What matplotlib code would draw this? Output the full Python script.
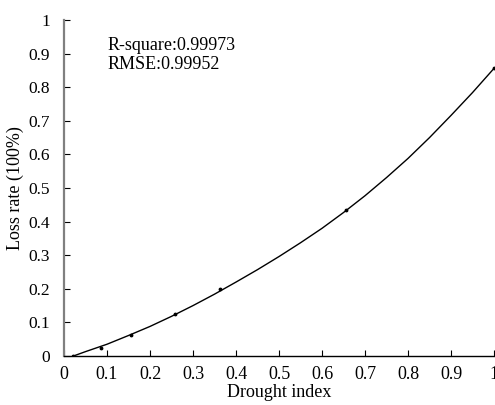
import matplotlib
matplotlib.use("Agg")
import matplotlib.pyplot as plt

plt.rcParams["font.family"] = ["Liberation Serif", "DejaVu Serif"]

# observed points
drought_idx = [0.022, 0.086, 0.155, 0.257, 0.363, 0.655, 1.0]
loss_rate = [0.0, 0.023, 0.063, 0.124, 0.198, 0.435, 0.858]

# fitted curve
fit_x = [0.022, 0.05, 0.1, 0.15, 0.2, 0.25, 0.3, 0.35, 0.4, 0.45, 0.5,
         0.55, 0.6, 0.65, 0.7, 0.75, 0.8, 0.85, 0.9, 0.95, 1.0]
fit_y = [0.0, 0.013, 0.035, 0.061, 0.088, 0.118, 0.150, 0.184, 0.220, 0.257, 0.296,
         0.337, 0.380, 0.427, 0.477, 0.531, 0.588, 0.650, 0.716, 0.784, 0.856]

ticks = [0, 0.1, 0.2, 0.3, 0.4, 0.5, 0.6, 0.7, 0.8, 0.9, 1]
tick_labels = ["0", "0.1", "0.2", "0.3", "0.4", "0.5", "0.6", "0.7", "0.8", "0.9", "1"]

fig = plt.figure(figsize=(4.95, 4.05), dpi=100)
ax = fig.add_axes([0.1293, 0.121, 0.8687, 0.8296])

ax.plot(fit_x, fit_y, "k-", lw=1.0)
ax.plot(drought_idx, loss_rate, "k.", ms=3.5)

ax.set_xlim(0, 1)
ax.set_ylim(0, 1)
ax.set_xticks(ticks)
ax.set_xticklabels(tick_labels)
ax.set_yticks(ticks)
ax.set_yticklabels(tick_labels)
ax.tick_params(direction="in", length=4, labelsize=13)
ax.tick_params(axis="x", pad=7)
ax.tick_params(axis="y", pad=10, labelsize=12.5)

for s in ["top", "right"]:
    ax.spines[s].set_visible(False)
ax.spines["left"].set_color("#808080")
ax.spines["left"].set_linewidth(1.6)
ax.spines["bottom"].set_linewidth(1.0)
ax.spines["bottom"].set_zorder(5)

ax.set_xlabel("Drought index", fontsize=13, labelpad=1)
ax.set_ylabel("Loss rate (100%)", fontsize=13)
ax.yaxis.set_label_coords(-0.093, 0.5)

ax.text(0.102, 0.925, "R-square:0.99973", fontsize=13, va="center")
ax.text(0.102, 0.868, "RMSE:0.99952", fontsize=13, va="center")

fig.savefig("out.png", dpi=100)
